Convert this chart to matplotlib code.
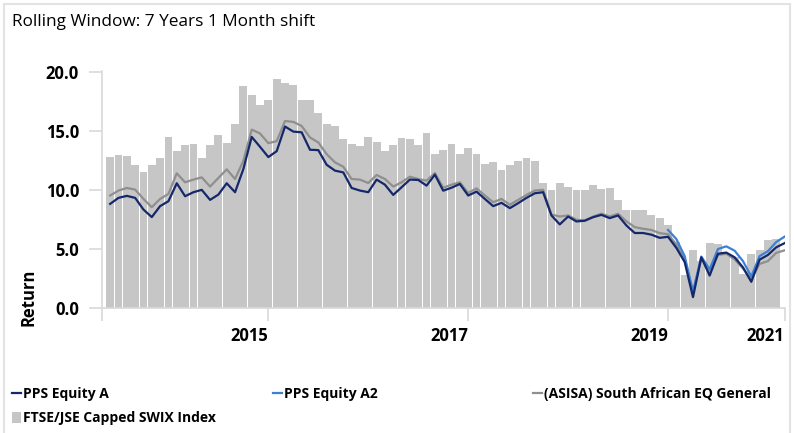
import numpy as np
import matplotlib
matplotlib.use("Agg")
import matplotlib.pyplot as plt
from matplotlib.patches import Rectangle
from matplotlib.transforms import ScaledTranslation

plt.rcParams['font.family'] = ['Open Sans', 'DejaVu Sans']

# Datos (retornos rolling 7 anos, mensual)
swix = [12.8, 13.0, 12.9, 12.1, 11.5, 12.1, 12.7, 14.5, 13.3, 13.8,
        13.9, 12.7, 13.8, 14.7, 14.0, 15.6, 18.8, 18.1, 17.2, 17.6,
        19.4, 19.1, 18.9, 17.6, 17.6, 16.5, 15.6, 15.4, 14.3, 13.9,
        13.7, 14.5, 14.1, 13.3, 13.8, 14.4, 14.3, 13.8, 14.8, 13.1,
        13.4, 13.9, 13.1, 13.6, 13.1, 12.2, 12.4, 11.7, 12.1, 12.5,
        12.7, 12.5, 10.6, 10.0, 10.6, 10.3, 10.0, 10.0, 10.4, 10.1,
        10.2, 9.2, 8.35, 8.3, 8.35, 7.85, 7.6, 7.0, 5.6, 2.8,
        4.95, 4.0, 5.55, 5.45, 4.6, 4.3, 2.9, 4.55, 4.9, 5.8,
        5.85, np.nan]

equity_a = [8.83, 9.34, 9.51, 9.34, 8.35, 7.71, 8.64, 9.06, 10.58, 9.48,
            9.82, 10.02, 9.17, 9.62, 10.58, 9.82, 11.79, 14.51, 13.67, 12.8,
            13.3, 15.39, 14.96, 14.9, 13.42, 13.39, 12.15, 11.65, 11.5, 10.18,
            9.96, 9.82, 10.89, 10.46, 9.59, 10.24, 10.89, 10.86, 10.38, 11.31,
            9.95, 10.2, 10.52, 9.54, 9.87, 9.25, 8.64, 8.92, 8.47, 8.89,
            9.34, 9.73, 9.82, 7.85, 7.09, 7.76, 7.34, 7.4, 7.7, 7.9,
            7.62, 7.85, 7.0, 6.36, 6.36, 6.22, 5.95, 6.04, 5.1, 3.9,
            0.92, 4.3, 2.75, 4.6, 4.7, 4.3, 3.45, 2.22, 4.1, 4.5,
            5.15, 5.5]

equity_a2 = [np.nan] * 67 + [6.62, 5.85, 4.4, 1.4, 4.36, 3.28, 5.0, 5.23,
                             4.86, 3.98, 2.67, 4.4, 4.82, 5.6, 6.05]

asisa = [9.54, 9.96, 10.18, 10.04, 9.25, 8.55, 9.25, 9.68, 11.42, 10.66,
         10.89, 11.08, 10.3, 11.03, 11.76, 10.94, 12.49, 15.13, 14.8, 13.98,
         14.15, 15.86, 15.78, 15.44, 14.46, 14.04, 13.05, 12.35, 11.98, 10.94,
         10.89, 10.6, 11.28, 10.94, 10.3, 10.66, 11.14, 10.94, 10.8, 11.45,
         10.2, 10.46, 10.66, 9.76, 10.15, 9.54, 8.97, 9.25, 8.75, 9.17,
         9.59, 9.96, 10.02, 7.93, 7.76, 7.85, 7.48, 7.43, 7.76, 8.0,
         7.76, 7.99, 7.35, 6.86, 6.72, 6.62, 6.35, 6.26, 5.4, 4.1,
         1.3, 4.19, 3.15, 4.5, 4.6, 4.12, 3.35, 2.43, 3.74, 3.98,
         4.68, 4.89]

year_labels = ['', '2015', '2017', '2019', '2021']
year_ticks = [-0.98, 19, 43, 67, 81]
y_ticks = [0, 5, 10, 15, 20]

x = np.arange(len(equity_a))

fig = plt.figure(figsize=(7.94, 4.33), dpi=100)
ax = fig.add_axes([102 / 794, 1 - 308 / 433, 683 / 794, 237 / 433])

bars = ax.bar(x, swix, width=0.94, color="#c6c6c6", linewidth=0)
l_asisa, = ax.plot(x, asisa, color="#8f8f8f", lw=1.6)
l_a2, = ax.plot(x, equity_a2, color="#3c80d6", lw=1.6)
l_a, = ax.plot(x, equity_a, color="#14286b", lw=1.6)

ax.set_xlim(-0.98, 81.05)
ax.set_ylim(0, 20.1)

ax.set_yticks(y_ticks)
ax.set_yticklabels([f"{v:.1f}" for v in y_ticks], fontsize=12, fontweight="bold")
ax.set_xticks(year_ticks)
ax.set_xticklabels(year_labels, fontsize=12, fontweight="bold")
for lbl in ax.get_xticklabels():
    lbl.set_ha("right")
    lbl.set_transform(lbl.get_transform() + ScaledTranslation(-0.1, 0, fig.dpi_scale_trans))

ax.tick_params(axis="y", length=9.5, width=1.2, color="#d9d9d9", pad=7)
ax.tick_params(axis="x", length=9.5, width=1.2, color="#d9d9d9", pad=4)

for s in ["top", "right"]:
    ax.spines[s].set_visible(False)
for s in ["left", "bottom"]:
    ax.spines[s].set_color("#d9d9d9")
    ax.spines[s].set_linewidth(1.2)

ax.set_ylabel("Return", fontsize=12, fontweight="bold")
ax.yaxis.set_label_coords(-0.095, 0.047)

fig.text(12 / 794, 1 - 26 / 433, "Rolling Window: 7 Years 1 Month shift", fontsize=12.4, va="baseline")

# marco exterior (sin borde inferior visible)
fig.add_artist(Rectangle((4 / 794, -10 / 433), 786 / 794, 439 / 433, transform=fig.transFigure,
                         fill=False, edgecolor="#e3e3e3", lw=1.5))

leg_kw = dict(frameon=False, prop={"weight": "bold", "size": 10}, handlelength=0.65,
              handletextpad=0.15, borderaxespad=0, borderpad=0, labelspacing=0.75,
              loc="upper left")
fig.legend([l_a, bars], ["PPS Equity A", "FTSE/JSE Capped SWIX Index"],
           bbox_to_anchor=(12 / 794, 1 - 387 / 433), handleheight=0.75, **leg_kw)
fig.legend([l_a2], ["PPS Equity A2"], bbox_to_anchor=(273 / 794, 1 - 387 / 433), **leg_kw)
fig.legend([l_asisa], ["(ASISA) South African EQ General"],
           bbox_to_anchor=(533 / 794, 1 - 387 / 433), **leg_kw)

fig.savefig("out.png", dpi=100)
